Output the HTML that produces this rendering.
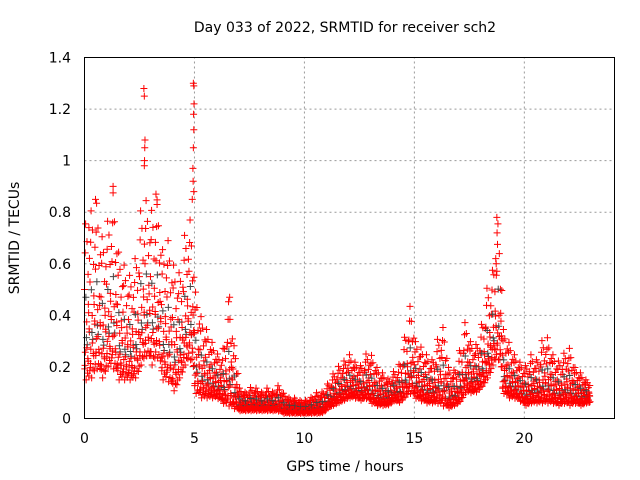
<!DOCTYPE html>
<html><head><meta charset="utf-8"><style>
body{margin:0;background:#fff}
svg{display:block;font-family:"DejaVu Sans","Liberation Sans",sans-serif}
</style></head><body>
<svg id="chart" width="640" height="480" viewBox="0 0 640 480" xmlns="http://www.w3.org/2000/svg">
<rect width="640" height="480" fill="#fff"/>
<text x="345" y="32" font-size="14" text-anchor="middle">Day 033 of 2022, SRMTID for receiver sch2</text>
<text x="345" y="471" font-size="14" text-anchor="middle">GPS time / hours</text>
<text x="0" y="0" font-size="14" text-anchor="middle" transform="translate(19,238) rotate(-90)">SRMTID / TECUs</text>
<g id="grid"></g><g id="ticks"></g><g id="marks"></g>
<rect x="84.5" y="57.5" width="530" height="361" fill="none" stroke="#000" stroke-width="1"/>
</svg>
<script>
const xTicks=[0,5,10,15,20];
const yTicks=[0,0.2,0.4,0.6,0.8,1,1.2,1.4];
const yTickLabels=["0","0.2","0.4","0.6","0.8","1","1.2","1.4"];
const binStart=0, binWidth=0.25;
const hiVals=[0.75,0.8,0.85,0.7,0.75,0.9,0.65,0.6,0.55,0.6,0.8,0.85,0.8,0.87,0.65,0.7,0.6,0.55,0.7,0.8,0.5,0.4,0.35,0.3,0.25,0.25,0.47,0.3,0.12,0.1,0.12,0.12,0.1,0.12,0.1,0.13,0.1,0.08,0.08,0.07,0.07,0.08,0.1,0.1,0.13,0.17,0.2,0.22,0.25,0.22,0.2,0.25,0.25,0.2,0.18,0.15,0.18,0.2,0.3,0.45,0.3,0.28,0.25,0.22,0.3,0.37,0.2,0.18,0.25,0.38,0.3,0.28,0.35,0.5,0.55,0.8,0.35,0.3,0.25,0.22,0.2,0.25,0.22,0.3,0.32,0.25,0.22,0.25,0.28,0.2,0.18,0.15];
const loVals=[0.15,0.15,0.2,0.15,0.2,0.2,0.15,0.15,0.15,0.15,0.2,0.25,0.2,0.25,0.15,0.15,0.1,0.15,0.2,0.25,0.1,0.08,0.08,0.08,0.08,0.06,0.05,0.04,0.03,0.03,0.03,0.03,0.03,0.03,0.03,0.03,0.02,0.02,0.02,0.02,0.02,0.02,0.02,0.02,0.04,0.05,0.06,0.07,0.08,0.08,0.07,0.08,0.06,0.05,0.05,0.05,0.07,0.06,0.08,0.1,0.08,0.07,0.06,0.06,0.06,0.05,0.04,0.05,0.06,0.1,0.1,0.1,0.12,0.15,0.2,0.25,0.1,0.08,0.08,0.07,0.05,0.06,0.06,0.06,0.06,0.06,0.05,0.06,0.05,0.06,0.05,0.06];
const spikeTimes=[2.7,2.72,2.75,2.74,2.73,2.72,4.95,4.97,4.98,4.96,4.97,4.95,4.93,4.94,4.97,4.9,18.75,18.76,18.7,18.72,1.3,0.5,3.25,6.6,0.2,3.3];
const spikeVals=[1.28,1.25,1.08,1.05,1.0,0.98,1.3,1.29,1.22,1.18,1.12,1.05,0.97,0.92,0.88,0.85,0.78,0.72,0.62,0.6,0.9,0.85,0.87,0.47,0.74,0.83];
const X0=84.5,X1=614.5,Y0=418.5,Y1=57.5,XMAX=24.1,YMAX=1.4;
const xs=v=>X0+v/XMAX*(X1-X0);
const ys=v=>Y0-v/YMAX*(Y0-Y1);
const NS="http://www.w3.org/2000/svg";
const grid=document.getElementById('grid'),ticks=document.getElementById('ticks'),marks=document.getElementById('marks');
function mk(tag,attrs,parent){const e=document.createElementNS(NS,tag);for(const k in attrs)e.setAttribute(k,attrs[k]);parent.appendChild(e);return e;}
xTicks.forEach(v=>{
  if(v>0){const g=mk('line',{x1:xs(v),x2:xs(v),y1:Y0,y2:Y1,stroke:'#999','stroke-dasharray':'2,3'},grid);
  
  }
  const t=mk('text',{x:xs(v),y:443,'font-size':14,'text-anchor':'middle'},ticks);t.textContent=v;
  
  
});
yTicks.forEach((v,i)=>{
  if(v>0){const g=mk('line',{x1:X0,x2:X1,y1:ys(v),y2:ys(v),stroke:'#999','stroke-dasharray':'2,3'},grid);
  
  }
  const t=mk('text',{x:71,y:ys(v)+5,'font-size':14,'text-anchor':'end'},ticks);t.textContent=yTickLabels[i];
  
  
});
function plus(t,v,color){
  const x=xs(t),y=ys(v);
  const p=mk('path',{d:`M${x-3.5},${y}H${x+3.5}M${x},${y-3.5}V${y+3.5}`,stroke:color,'stroke-width':1,fill:'none'},marks);
  
  
}
const fr=[0.0,0.55,0.15,0.8,0.3,1.0,0.05,0.45,0.2,0.65,0.1,0.35,0.72,0.25,0.5,0.9,0.12,0.4,0.6,0.08,0.28,0.85,0.18,0.38];
const tj=[0.3,0.7,0.1,0.9,0.5,0.2,0.8,0.4,0.6,0.0,0.95,0.35,0.65,0.15,0.75,0.45,0.05,0.85,0.25,0.55,0.42,0.12,0.68,0.88];
hiVals.forEach((hi,i)=>{
  const lo=loVals[i];
  const nxt=i+1<hiVals.length?hiVals[i+1]:hi, nlo=i+1<loVals.length?loVals[i+1]:lo;
  fr.forEach((f,k)=>{
    const u=tj[k];
    const t=binStart+(i+u)*binWidth;
    const h=hi+(nxt-hi)*u*0.5, l=lo+(nlo-lo)*u*0.5;
    const v=l+Math.pow(f,1.25)*(h-l);
    plus(t,v,k%7===4?'#444':'#ff0000');
  });
});
spikeTimes.forEach((t,i)=>plus(t,spikeVals[i],'#ff0000'));
</script>
</body></html>
